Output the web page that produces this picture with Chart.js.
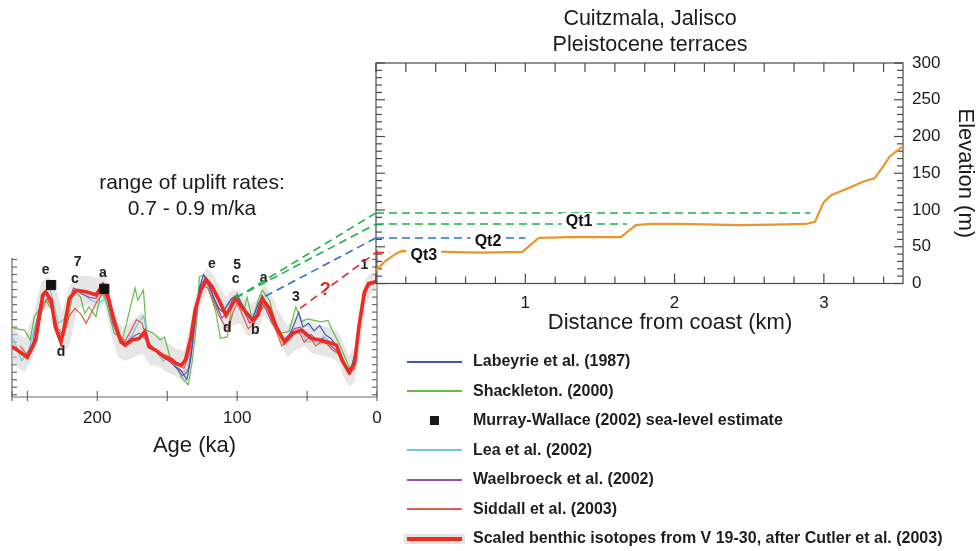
<!DOCTYPE html>
<html>
<head>
<meta charset="utf-8">
<title>Cuitzmala, Jalisco - Pleistocene terraces</title>
<script src="https://cdn.jsdelivr.net/npm/chart.js@4.4.1/dist/chart.umd.min.js"></script>
<style>
  html, body { margin: 0; padding: 0; background: #fff; }
  body { position: relative; width: 979px; height: 551px; overflow: hidden;
         font-family: "Liberation Sans", Arial, Helvetica, sans-serif; color: #1b1b1b; }
  canvas { position: absolute; }
  #ageChart { left: 0; top: 230px; }
  #mainChart { left: 0; top: 0; }
  .lbl { position: absolute; white-space: nowrap; transform: translate(-50%, -50%); }
  .title { font-size: 21.5px; }
  #legend div { position: absolute; left: 407px; height: 20px; line-height: 20px;
                font-weight: bold; font-size: 16px; white-space: nowrap; color: #1e1e1e; }
  #legend span { display: inline-block; vertical-align: middle; margin-right: 11px; }
</style>
</head>
<body>
<canvas id="ageChart" width="400" height="250"></canvas>
<canvas id="mainChart" width="979" height="551"></canvas>
<div class="lbl title" style="left:650px;top:18px">Cuitzmala, Jalisco</div>
<div class="lbl title" style="left:650px;top:44px">Pleistocene terraces</div>
<div class="lbl" style="left:192px;top:182px;font-size:21px">range of uplift rates:</div>
<div class="lbl" style="left:192px;top:208px;font-size:21px">0.7 - 0.9 m/ka</div>
<div class="lbl" style="left:670px;top:322px;font-size:22px">Distance from coast (km)</div>
<div id="legend"></div>
<script>
// --- terrace profile (distance from coast, km / elevation, m)
const profileKm   = [0, 0.06, 0.13, 0.17, 0.4, 0.7, 0.98, 1.09, 1.3, 1.64, 1.74, 1.84, 2.0, 2.2, 2.43, 2.66, 2.88, 2.94, 3.0, 3.05, 3.19, 3.26, 3.34, 3.4, 3.44, 3.53];
const profileElev = [18, 30, 40, 44, 43.5, 42, 43, 62, 63, 63, 79.5, 81, 81, 80.5, 79.5, 80, 81, 84, 111, 120, 132, 138.5, 143, 160, 172.5, 187];

// terrace levels (Qt1 upper, Qt1 lower, Qt2, Qt3)
const terraceElev  = [96, 81, 62, 42];
const terraceEndKm = [2.91, 1.68, 1.0, 0.09];
// highstand each level is tied to (age ka, sea level m)
const terraceAge = [101, 101, 80, 55];
const terraceSL  = [-21, -21, -19, -35];

// --- sea-level curves (age ka / sea level m)
const cutlerAge = [261, 259, 250, 244, 239, 237, 233, 230, 226, 224, 220, 215, 208, 201, 196, 193, 188, 183, 180, 175, 170, 166, 163, 158, 152, 147, 144, 140, 137, 133, 130, 126, 122, 118, 113, 108, 105, 101, 96, 89, 85, 82, 77, 72, 66, 60, 54, 47, 41, 35, 29, 25, 20, 16, 13, 9, 6, 2, 0];
const cutlerSL  = [-86, -88, -100, -77, -17, -13, -24, -60, -80, -64, -22, -11, -13, -17, -4, -15, -51, -80, -84, -77, -75, -66, -86, -91, -100, -104, -108, -111, -104, -73, -37, -11, 3, -6, -24, -44, -35, -22, -35, -51, -44, -22, -35, -60, -80, -68, -64, -75, -77, -80, -84, -104, -120, -108, -60, -13, -2, 0, 0];

const shackletonAge = [261, 259, 252, 248, 245, 237, 232, 227, 222, 217, 212, 209, 206, 201, 197, 193, 188, 182, 178, 173, 171, 167, 165, 160, 155, 152, 148, 144, 140, 135, 132, 129, 127, 124, 120, 115, 112, 107, 104, 100, 95, 93, 89, 85, 82, 77, 73, 69, 63, 58, 54, 50, 45, 40, 35, 32, 27, 22, 19, 15, 12, 8, 4, 2];
const shackletonSL  = [-60, -62, -64, -77, -46, -24, -38, -77, -59, -11, -20, -42, -33, -46, -11, -31, -68, -77, -46, -8, -24, -11, -64, -68, -77, -73, -100, -111, -126, -137, -104, -55, 7, 9, -11, -42, -75, -73, -33, -15, -37, -20, -51, -24, -11, -24, -51, -68, -66, -33, -53, -49, -51, -53, -51, -64, -82, -104, -117, -91, -46, -6, -2, -4];

const leaAge = [260, 254, 249, 244, 239, 235, 232, 228, 224, 219, 214, 209, 204, 199, 194, 190, 185, 180, 175, 171, 167, 163, 158, 153, 148, 143, 139, 135, 132, 129, 126, 122, 118, 114, 110, 106, 102, 98, 94, 90, 86, 82, 78, 74, 70, 66, 62, 58, 54, 50, 46, 42, 38, 34, 30, 26, 22, 18, 15, 12, 9, 5, 2];
const leaSL  = [-75, -105, -90, -55, -25, -5, -20, -55, -50, -20, -12, -18, -25, -28, -22, -42, -70, -82, -70, -55, -45, -80, -92, -105, -100, -112, -120, -115, -80, -35, -10, -2, -15, -35, -40, -30, -18, -30, -38, -45, -38, -25, -30, -55, -68, -80, -78, -65, -68, -80, -78, -82, -72, -80, -90, -100, -115, -118, -95, -50, -15, -3, 0];

const waelbroeckAge = [250, 246, 241, 237, 233, 229, 225, 221, 217, 212, 206, 201, 197, 193, 189, 184, 179, 174, 170, 166, 161, 156, 151, 147, 143, 139, 135, 132, 129, 126, 123, 119, 115, 111, 107, 103, 99, 95, 91, 87, 83, 79, 75, 71, 67, 63, 59, 55, 51, 47, 43, 39, 35, 31, 27, 23, 19, 16, 13, 10, 6, 2];
const waelbroeckSL  = [-95, -80, -30, -15, -30, -65, -70, -30, -8, -15, -20, -22, -10, -20, -55, -78, -80, -72, -68, -75, -88, -95, -102, -108, -115, -125, -118, -85, -40, -5, 5, -10, -30, -48, -40, -22, -25, -40, -55, -45, -25, -38, -55, -65, -78, -70, -62, -60, -72, -70, -78, -75, -82, -88, -95, -110, -122, -110, -65, -20, -5, -1];

const labeyrieAge = [145, 140, 136, 133, 130, 127, 124, 121, 117, 113, 110, 107, 104, 100, 97, 93, 89, 85, 82, 79, 75, 71, 67, 63, 59, 56, 53, 49, 45, 41, 37, 33, 29, 25, 21, 18, 15, 12, 9, 6, 2];
const labeyrieSL  = [-112, -118, -130, -100, -45, -8, 10, 2, -20, -35, -40, -30, -22, -18, -28, -40, -48, -30, -18, -30, -48, -65, -78, -72, -55, -40, -60, -55, -65, -58, -70, -75, -85, -100, -118, -112, -90, -45, -15, -3, -1];

const siddallAge = [255, 250, 245, 240, 236, 232, 228, 224, 220, 216, 212, 208, 204, 200, 196, 192, 188, 184, 180, 176, 172, 168, 164, 160, 155, 150, 146, 142, 138, 134, 131, 128, 125, 121, 117, 113, 109, 106, 103, 100, 96, 92, 88, 84, 80, 76, 72, 68, 64, 60, 56, 52, 48, 44, 40, 36, 32, 28, 24, 20, 16, 13, 10, 6, 2];
const siddallSL  = [-85, -98, -85, -40, -22, -35, -62, -70, -45, -35, -42, -55, -40, -25, -15, -25, -50, -72, -78, -65, -50, -55, -80, -88, -95, -98, -102, -110, -115, -95, -55, -20, -5, -8, -25, -45, -58, -62, -40, -28, -45, -62, -55, -40, -30, -48, -65, -85, -78, -70, -65, -80, -72, -85, -80, -82, -90, -95, -108, -122, -115, -70, -25, -5, -1];

// grey envelope round the curves
const bandAge  = [261, 252, 246, 240, 235, 230, 225, 220, 214, 206, 200, 195, 190, 185, 180, 174, 168, 162, 156, 150, 144, 138, 134, 130, 126, 122, 118, 113, 108, 103, 98, 92, 86, 81, 76, 70, 64, 58, 52, 46, 40, 34, 28, 24, 20, 16, 12, 8, 4, 0];
const bandHigh = [-60, -75, -45, 0, 8, -5, -40, -5, 8, 8, 5, 12, -20, -55, -60, -50, -40, -65, -72, -80, -88, -92, -60, -20, 5, 18, 12, -5, -20, -10, -12, -30, -25, -2, -15, -40, -58, -45, -50, -55, -58, -60, -65, -82, -98, -85, -35, 5, 12, 12];
const bandLow  = [-108, -120, -100, -38, -35, -48, -95, -85, -35, -30, -38, -28, -70, -100, -105, -100, -95, -110, -112, -120, -125, -135, -125, -60, -30, -12, -25, -45, -65, -58, -55, -72, -70, -45, -55, -80, -100, -90, -85, -95, -98, -100, -105, -125, -140, -132, -85, -30, -15, -12];

// Murray-Wallace (2002) sea-level estimates
const murrayAge = [233, 195];
const murraySL  = [-4, -9];

const legendNames = ['Labeyrie et al. (1987)', 'Shackleton. (2000)', 'Murray-Wallace (2002) sea-level estimate',
  'Lea et al. (2002)', 'Waelbroeck et al. (2002)', 'Siddall et al. (2003)',
  'Scaled benthic isotopes from V 19-30, after Cutler et al. (2003)'];

const pts = (xs, ys) => xs.map((v, i) => ({ x: v, y: ys[i] }));
const FONT = '"Liberation Sans", Arial, Helvetica, sans-serif';
Chart.defaults.font.family = FONT;
Chart.defaults.color = '#1b1b1b';

const C = {
  labeyrie: '#4257b2', shackleton: '#62bd4a', lea: '#72c9d6', waelbroeck: '#9c4ea8',
  siddall: '#e55a4c', cutler: '#ee2b22', band: 'rgba(205,205,205,0.5)',
  orange: '#e8962c', green: '#1fb14b', blue: '#2f6fcf', red: '#e5261f'
};
const terraceColors = [C.green, C.green, C.blue, C.red];

function seg(ctx, x1, y1, x2, y2) {
  ctx.beginPath(); ctx.moveTo(x1, y1); ctx.lineTo(x2, y2); ctx.stroke();
}

// labels on the sea-level curves (age ka, sea level m)
const curveNotes = [
  ['e', 237, 16], ['7', 214, 26], ['c', 216, 4], ['a', 196, 12], ['d', 226, -93],
  ['e', 118, 24], ['5', 100, 23], ['c', 101, 4], ['a', 81, 5], ['d', 107, -61],
  ['b', 87, -64], ['3', 58, -20], ['1', 9, 23]
];

const ageFrame = {
  id: 'ageFrame',
  beforeDatasetsDraw(chart) {
    const { ctx, chartArea: a, scales: { x, y } } = chart;
    ctx.save();
    ctx.strokeStyle = '#6a6a6a';
    ctx.lineWidth = 1.2;
    seg(ctx, a.left, a.top + 3, a.left, a.bottom);
    seg(ctx, a.right, a.top - 5, a.right, a.bottom);
    seg(ctx, a.left, a.bottom, a.right, a.bottom);
    for (let v = -150; v <= 30; v += 10) {
      const py = y.getPixelForValue(v);
      if (py < a.top + 3) continue;
      seg(ctx, a.left, py, a.left + 5, py);
      seg(ctx, a.right, py, a.right - 5, py);
    }
    for (let v = 0; v <= 250; v += 50) {
      const px = x.getPixelForValue(v);
      seg(ctx, px, a.bottom - 6, px, a.bottom + 4);
    }
    seg(ctx, a.left, a.bottom - 6, a.left, a.bottom + 4);
    ctx.restore();
  },
  afterDatasetsDraw(chart) {
    const { ctx, scales: { x, y } } = chart;
    ctx.save();
    ctx.textAlign = 'center';
    ctx.textBaseline = 'middle';
    ctx.font = 'bold 14px ' + FONT;
    ctx.fillStyle = '#222';
    curveNotes.forEach(([t, age, sl]) => ctx.fillText(t, x.getPixelForValue(age), y.getPixelForValue(sl)));
    ctx.font = 'bold 18px ' + FONT;
    ctx.fillStyle = C.red;
    ctx.fillText('?', x.getPixelForValue(37), y.getPixelForValue(-10));
    ctx.restore();
  }
};

const lineDs = (label, xs, ys, color, width) => ({
  label, data: pts(xs, ys), borderColor: color, borderWidth: width,
  pointRadius: 0, fill: false, tension: 0
});

const ageChart = new Chart(document.getElementById('ageChart'), {
  type: 'line',
  data: {
    datasets: [
      { label: 'Murray-Wallace (2002)', data: pts(murrayAge, murraySL), showLine: false,
        pointStyle: 'rect', pointRadius: 6.5, pointBackgroundColor: '#111', pointBorderColor: '#111' },
      lineDs('Cutler et al. (2003)', cutlerAge, cutlerSL, C.cutler, 3.6),
      lineDs('Siddall et al. (2003)', siddallAge, siddallSL, C.siddall, 1.2),
      lineDs('Labeyrie et al. (1987)', labeyrieAge, labeyrieSL, C.labeyrie, 1.2),
      lineDs('Waelbroeck et al. (2002)', waelbroeckAge, waelbroeckSL, C.waelbroeck, 1.2),
      lineDs('Lea et al. (2002)', leaAge, leaSL, C.lea, 1.2),
      lineDs('Shackleton (2000)', shackletonAge, shackletonSL, C.shackleton, 1.2),
      { label: 'band high', data: pts(bandAge, bandHigh), borderWidth: 0, pointRadius: 0, fill: false },
      { label: 'band low', data: pts(bandAge, bandLow), borderWidth: 0, pointRadius: 0,
        fill: '-1', backgroundColor: C.band }
    ]
  },
  options: {
    responsive: false,
    animation: false,
    events: [],
    layout: { padding: { left: 12, right: 23, top: 25, bottom: 21 } },
    plugins: { legend: { display: false }, tooltip: { enabled: false } },
    scales: {
      x: {
        type: 'linear', reverse: true, min: 0, max: 261,
        grid: { display: false, drawTicks: false }, border: { display: false },
        ticks: { stepSize: 100, includeBounds: false, padding: 11, font: { size: 17 } },
        title: { display: true, text: 'Age (ka)', font: { size: 22 }, padding: 0 },
        afterFit(s) { s.height = 62; }
      },
      y: { display: false, min: -153, max: 36 }
    }
  },
  plugins: [ageFrame]
});

const terraceNotes = [['Qt1', 1.36, 85], ['Qt2', 0.75, 59], ['Qt3', 0.32, 40]];

const profileFrame = {
  id: 'profileFrame',
  beforeDatasetsDraw(chart) {
    const { ctx, chartArea: a, scales: { x, y } } = chart;
    ctx.save();
    ctx.strokeStyle = '#4a4a4a';
    ctx.lineWidth = 1.2;
    ctx.strokeRect(a.left, a.top, a.right - a.left, a.bottom - a.top);
    for (let i = 0; i * 0.2 <= x.max + 1e-6; i++) {
      const px = x.getPixelForValue(i * 0.2);
      seg(ctx, px, a.bottom, px, a.bottom - (i % 5 === 0 ? 10 : 7));
      seg(ctx, px, a.top, px, a.top + 9);
    }
    for (let v = 0; v <= 300; v += 10) {
      const py = y.getPixelForValue(v);
      const len = v % 50 === 0 ? 9 : 6;
      seg(ctx, a.left, py, a.left + len, py);
      seg(ctx, a.right, py, a.right - len, py);
    }
    ctx.restore();
  },
  afterDatasetsDraw(chart) {
    const { ctx, scales: { x, y } } = chart;
    ctx.save();
    // dashed links from the highstands to the terrace levels
    const ac = ageChart.canvas, mc = chart.canvas;
    const dx = ac.offsetLeft - mc.offsetLeft, dy = ac.offsetTop - mc.offsetTop;
    ctx.lineWidth = 1.6;
    ctx.setLineDash([8, 5]);
    terraceElev.forEach((m, i) => {
      ctx.strokeStyle = terraceColors[i];
      seg(ctx,
        ageChart.scales.x.getPixelForValue(terraceAge[i]) + dx,
        ageChart.scales.y.getPixelForValue(terraceSL[i]) + dy,
        x.getPixelForValue(0), y.getPixelForValue(m));
    });
    ctx.setLineDash([]);
    ctx.font = 'bold 16px ' + FONT;
    ctx.textAlign = 'center';
    ctx.textBaseline = 'middle';
    terraceNotes.forEach(([t, km, m]) => {
      const px = x.getPixelForValue(km), py = y.getPixelForValue(m);
      const w = ctx.measureText(t).width;
      ctx.fillStyle = '#fff';
      ctx.fillRect(px - w / 2 - 4, py - 8, w + 8, 16);
      ctx.fillStyle = '#111';
      ctx.fillText(t, px, py + 1);
    });
    ctx.restore();
  }
};

const mainChart = new Chart(document.getElementById('mainChart'), {
  type: 'line',
  data: {
    datasets: [
      { label: 'Topographic profile', data: pts(profileKm, profileElev), borderColor: C.orange,
        borderWidth: 2.2, pointRadius: 0, tension: 0 }
    ].concat(terraceElev.map((m, i) => ({
      label: 'terrace ' + (i + 1), data: [{ x: 0, y: m }, { x: terraceEndKm[i], y: m }],
      borderColor: terraceColors[i], borderWidth: 1.6, borderDash: [8, 5], pointRadius: 0
    })))
  },
  options: {
    responsive: false,
    animation: false,
    events: [],
    layout: { padding: { left: 376, top: 63, right: 0, bottom: 227.5 } },
    plugins: { legend: { display: false }, tooltip: { enabled: false } },
    scales: {
      x: {
        type: 'linear', min: 0, max: 3.53,
        grid: { display: false, drawTicks: false }, border: { display: false },
        ticks: { stepSize: 1, includeBounds: false, padding: 10, font: { size: 17 },
                 callback: v => (v === 0 ? '' : v) },
        afterFit(s) { s.height = 40; }
      },
      y: {
        position: 'right', min: 0, max: 300,
        grid: { display: false, drawTicks: false }, border: { display: false },
        ticks: { stepSize: 50, padding: 9, font: { size: 17 } },
        title: { display: true, text: 'Elevation (m)', font: { size: 22 }, padding: { top: 1, bottom: 0 } },
        afterFit(s) { s.width = 76; }
      }
    }
  },
  plugins: [profileFrame]
});

// legend
const legendStyle = [
  { c: C.labeyrie, h: 2 }, { c: C.shackleton, h: 2 }, { sq: true }, { c: C.lea, h: 2 },
  { c: C.waelbroeck, h: 2 }, { c: C.siddall, h: 2 }, { c: C.cutler, h: 4, halo: true }
];
const legendEl = document.getElementById('legend');
legendNames.forEach((name, i) => {
  const s = legendStyle[i];
  const row = document.createElement('div');
  row.style.top = (351 + i * 29.5) + 'px';
  const sw = document.createElement('span');
  if (s.sq) {
    sw.style.cssText = 'width:9px;height:9px;background:#1a1a1a;margin-left:23px;margin-right:34px';
  } else {
    sw.style.width = '55px';
    sw.style.height = s.h + 'px';
    sw.style.background = s.c;
    if (s.halo) sw.style.boxShadow = '0 0 0 3px #e2e2e2';
  }
  row.appendChild(sw);
  row.appendChild(document.createTextNode(name));
  legendEl.appendChild(row);
});
</script>
</body>
</html>
